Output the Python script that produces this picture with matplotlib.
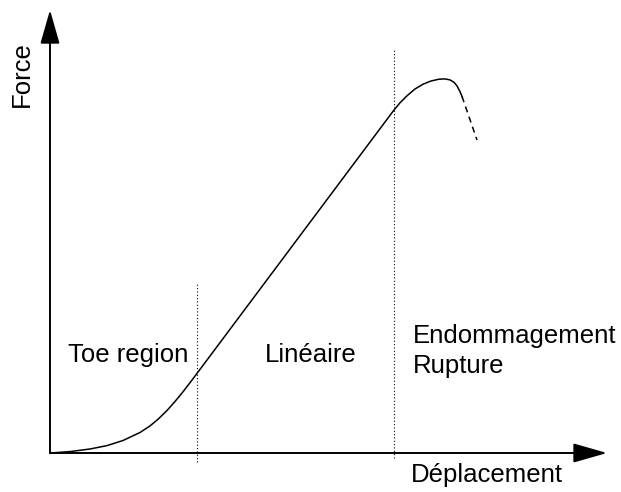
import matplotlib
matplotlib.use("Agg")
import matplotlib.pyplot as plt

plt.rcParams['font.family'] = ['Liberation Sans', 'DejaVu Sans']

# Curve (displacement, force) in arbitrary units, origin at axes corner
disp_solid = [0, 20, 40, 57, 73, 90, 100, 108, 117, 125, 133, 140, 147,
              344, 350, 357, 365, 373, 381, 389, 395, 400, 404, 407, 410, 412]
force_solid = [0, 1.4, 4.0, 7.4, 12.5, 20.5, 27.1, 33.7, 42.5, 51.5, 61.2, 70.3, 79.6,
               343, 350.2, 357.2, 364, 368.8, 372, 373.8, 374.1, 373.1, 370.7,
               367.1, 361.4, 356.6]
disp_dash = [412, 427]
force_dash = [356.6, 313]

region_bounds = [147, 344]
region_labels = ["Toe region", "Linéaire", "Endommagement", "Rupture"]
label_x = [78, 261, 363, 363]
label_y = [98, 98, 117, 87]
label_ha = ['center', 'center', 'left', 'left']
x_label = "Déplacement"
y_label = "Force"

fig = plt.figure(figsize=(6.21, 4.92), dpi=100)
ax = fig.add_axes([0, 0, 1, 1])
ax.set_xlim(-50, 571)
ax.set_ylim(-39, 453)
ax.axis('off')

# axes arrows
ax.annotate('', xy=(557, 0), xytext=(0, 0),
            arrowprops=dict(arrowstyle='-|>,head_length=1.4,head_width=0.4',
                            mutation_scale=15, lw=1.4, color='black',
                            shrinkA=0, shrinkB=0))
ax.annotate('', xy=(0, 443), xytext=(0, 0),
            arrowprops=dict(arrowstyle='-|>,head_length=1.4,head_width=0.4',
                            mutation_scale=15, lw=1.4, color='black',
                            shrinkA=0, shrinkB=0))

# region boundaries
ax.plot([region_bounds[0]] * 2, [-9, 171], color='black', lw=0.8,
        linestyle=(0, (1, 2)))
ax.plot([region_bounds[1]] * 2, [-5, 403], color='black', lw=0.8,
        linestyle=(0, (1, 2)))

ax.plot(disp_solid, force_solid, color='black', lw=1.1,
        solid_joinstyle='round')
ax.plot(disp_dash, force_dash, color='black', lw=1.1, linestyle=(0, (4, 3)))

for t, x, y, ha in zip(region_labels, label_x, label_y, label_ha):
    ax.text(x, y, t, fontsize=18.5, ha=ha, va='center')

ax.text(437, -22, x_label, fontsize=18.5, ha='center', va='center')
ax.text(-28, 379, y_label, fontsize=18.5, ha='center', va='center', rotation=90)

fig.savefig('out.png', dpi=100)
